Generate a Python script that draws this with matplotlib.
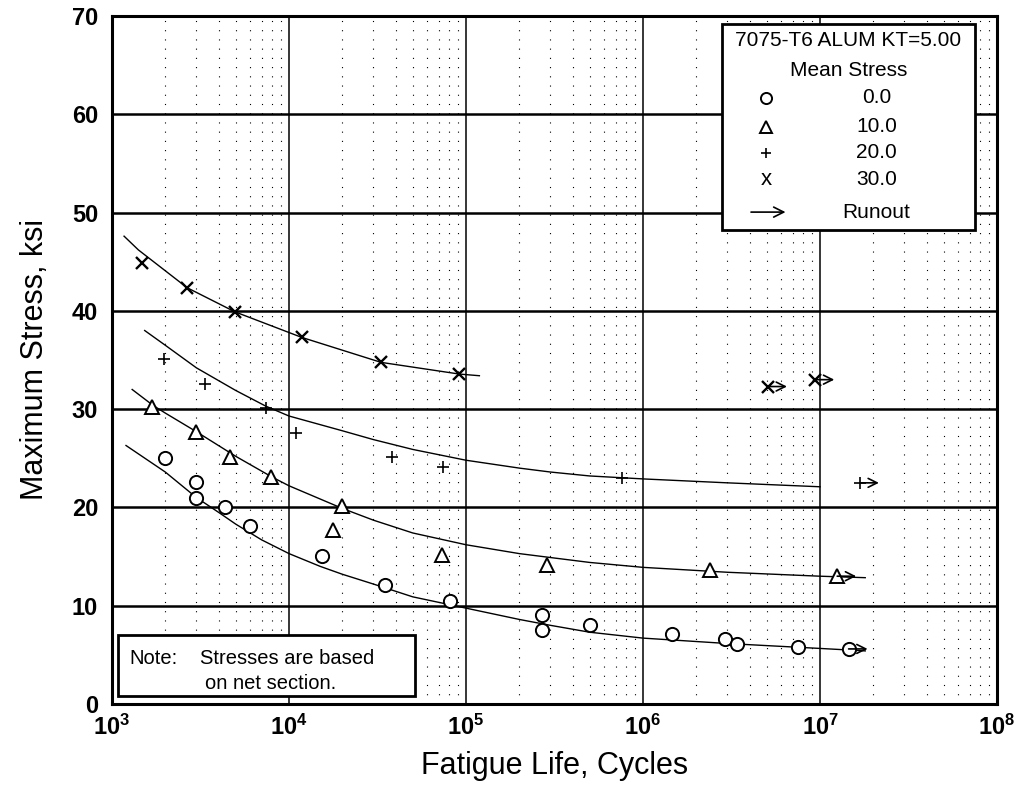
import matplotlib
matplotlib.use('Agg')
import matplotlib.pyplot as plt
from matplotlib.patches import Rectangle

plt.rcParams['font.family'] = ['Liberation Sans', 'DejaVu Sans']
plt.rcParams['mathtext.fontset'] = 'custom'
plt.rcParams['mathtext.bf'] = 'Liberation Sans:bold'
plt.rcParams['mathtext.rm'] = 'Liberation Sans'

# test points, mean stress 0 / 10 / 20 / 30 ksi
n0 = [2000, 3000, 3000, 4350, 6000, 15300, 35000, 81000, 270000, 270000, 500000,
      1.46e6, 2.9e6, 3.4e6, 7.5e6, 1.45e7]
s0 = [25.0, 22.6, 21.0, 20.0, 18.1, 15.1, 12.1, 10.5, 9.05, 7.5, 8.0,
      7.1, 6.6, 6.1, 5.8, 5.6]
r0 = [1.45e7]
rs0 = [5.6]

n10 = [1680, 2990, 4640, 7900, 19900, 17700, 73000, 287000, 2.39e6, 1.25e7]
s10 = [30.2, 27.7, 25.1, 23.1, 20.1, 17.7, 15.2, 14.1, 13.6, 13.0]
r10 = [1.25e7]
rs10 = [13.0]

n20 = [1970, 3350, 7400, 10960, 38200, 74100, 760000, 1.68e7]
s20 = [35.1, 32.6, 30.1, 27.6, 25.1, 24.1, 23.0, 22.5]
r20 = [1.68e7]
rs20 = [22.5]

n30 = [1480, 2650, 4950, 11800, 33100, 91200, 5.08e6, 9.4e6]
s30 = [44.9, 42.3, 39.9, 37.3, 34.8, 33.6, 32.3, 33.0]
r30 = [5.08e6, 9.4e6]
rs30 = [32.3, 33.0]

# best-fit curves
cn0 = [1200, 2000, 3000, 4000, 5000, 7000, 1e4, 1.5e4, 2e4, 3e4, 5e4, 1e5,
       2e5, 3e5, 5e5, 1e6, 3e6, 1e7, 1.8e7]
cs0 = [26.3, 23.6, 21.0, 19.5, 18.3, 16.7, 15.3, 14.0, 13.2, 12.2, 10.9, 9.75,
       8.6, 8.0, 7.3, 6.7, 6.15, 5.65, 5.4]
cn10 = [1300, 1700, 2000, 3000, 5000, 8000, 1e4, 2e4, 3e4, 5e4, 1e5,
        2e5, 3e5, 5e5, 1e6, 3e6, 1e7, 1.8e7]
cs10 = [32.0, 30.4, 29.6, 27.7, 25.2, 23.1, 22.2, 19.9, 18.7, 17.4, 16.2,
        15.3, 14.9, 14.4, 13.9, 13.4, 13.0, 12.85]
cn20 = [1530, 2000, 3000, 5000, 7400, 1e4, 2e4, 3e4, 5e4, 1e5, 2e5, 3e5,
        5e5, 1e6, 3e6, 1e7]
cs20 = [38.0, 36.5, 34.2, 31.9, 30.3, 29.3, 27.8, 26.9, 25.9, 24.8, 24.0, 23.6,
        23.2, 22.9, 22.5, 22.1]
cn30 = [1170, 1410, 2660, 4950, 11800, 33100, 91600, 1.19e5]
cs30 = [47.6, 46.2, 42.35, 39.9, 37.3, 34.76, 33.57, 33.4]

xticks = [1e3, 1e4, 1e5, 1e6, 1e7, 1e8]
xticklabels = ['$\\mathbf{10^{3}}$', '$\\mathbf{10^{4}}$', '$\\mathbf{10^{5}}$',
               '$\\mathbf{10^{6}}$', '$\\mathbf{10^{7}}$', '$\\mathbf{10^{8}}$']
yticks = [0, 10, 20, 30, 40, 50, 60, 70]

fig = plt.figure(figsize=(10.2, 7.94), dpi=100)
ax = fig.add_axes([0.1098, 0.1134, 0.8677, 0.8664])
ax.set_xscale('log')
ax.set_xlim(1e3, 1e8)
ax.set_ylim(0, 70)

# grid
for d in range(3, 8):
    for m in range(2, 10):
        ax.axvline(m * 10**d, color='black', lw=0.8, ls=(0, (1, 7.3)), zorder=0)
for x in xticks[1:-1]:
    ax.axvline(x, color='black', lw=1.1, zorder=1)
for y in yticks[1:-1]:
    ax.axhline(y, color='black', lw=1.8, zorder=1)

# curves
for cn, cs in [(cn0, cs0), (cn10, cs10), (cn20, cs20), (cn30, cs30)]:
    ax.plot(cn, cs, color='black', lw=1.0, zorder=2)

# points
ax.plot(n0, s0, 'o', ms=9.5, mfc='white', mec='black', mew=1.4, zorder=3)
ax.plot(n10, s10, '^', ms=9.5, mfc='white', mec='black', mew=1.4, zorder=3)
ax.plot(n20, s20, '+', ms=8, mec='black', mew=1.2, zorder=3)
ax.plot(n30, s30, 'x', ms=9, mec='black', mew=1.7, zorder=3)

# runouts
for rn, rs in [(r0, rs0), (r10, rs10), (r20, rs20), (r30, rs30)]:
    for n, s in zip(rn, rs):
        ax.annotate('', xy=(n * 1.28, s), xytext=(n, s),
                    arrowprops=dict(arrowstyle='->', lw=1.2, color='black',
                                    shrinkA=0, shrinkB=0, mutation_scale=16),
                    zorder=4)

ax.set_xticks(xticks)
ax.set_xticklabels(xticklabels, fontsize=17)
ax.set_xticks([], minor=True)
ax.set_yticks(yticks)
ax.set_yticklabels([str(y) for y in yticks], fontsize=17, fontweight='bold')
ax.tick_params(length=0, pad=10)
ax.tick_params(axis='x', pad=8)
for sp in ax.spines.values():
    sp.set_linewidth(2.2)

ax.set_xlabel('Fatigue Life, Cycles', fontsize=22, labelpad=8)
ax.set_ylabel('Maximum Stress, ksi', fontsize=22, labelpad=16)

# legend box
T = ax.transAxes
ax.add_patch(Rectangle((0.689, 0.689), 0.286, 0.299, transform=T, fill=True,
                       facecolor='white', edgecolor='black', lw=2, zorder=5))
ax.text(0.832, 0.965, '7075-T6 ALUM KT=5.00', transform=T, ha='center', va='center',
        fontsize=15, zorder=6)
ax.text(0.832, 0.9215, 'Mean Stress', transform=T, ha='center', va='center',
        fontsize=15, zorder=6)
leg_labels = ['0.0', '10.0', '20.0', '30.0']
leg_y = [0.881, 0.839, 0.801, 0.762]
ax.plot(0.739, leg_y[0], 'o', ms=8, mfc='white', mec='black', mew=1.4, transform=T, zorder=6)
ax.plot(0.739, leg_y[1], '^', ms=8, mfc='white', mec='black', mew=1.4, transform=T, zorder=6)
ax.plot(0.739, leg_y[2], '+', ms=7, mec='black', mew=1.2, transform=T, zorder=6)
ax.text(0.739, leg_y[3], 'x', transform=T, ha='center', va='center', fontsize=16, zorder=6)
for lab, y in zip(leg_labels, leg_y):
    ax.text(0.864, y, lab, transform=T, ha='center', va='center', fontsize=15, zorder=6)
ax.annotate('', xy=(0.761, 0.715), xytext=(0.722, 0.715), xycoords=T, textcoords=T,
            arrowprops=dict(arrowstyle='->', lw=1.2, color='black', shrinkA=0, shrinkB=0,
                            mutation_scale=18), zorder=6)
ax.text(0.864, 0.715, 'Runout', transform=T, ha='center', va='center', fontsize=15, zorder=6)

# note box
ax.add_patch(Rectangle((0.0068, 0.0116), 0.3355, 0.0887, transform=T, fill=True,
                       facecolor='white', edgecolor='black', lw=2, zorder=5))
ax.text(0.020, 0.0655, 'Note:', transform=T, ha='left', va='center', fontsize=14.5, zorder=6)
ax.text(0.099, 0.0655, 'Stresses are based', transform=T, ha='left', va='center',
        fontsize=14.5, zorder=6)
ax.text(0.105, 0.030, 'on net section.', transform=T, ha='left', va='center',
        fontsize=14.5, zorder=6)

plt.savefig('out.png', dpi=100)
